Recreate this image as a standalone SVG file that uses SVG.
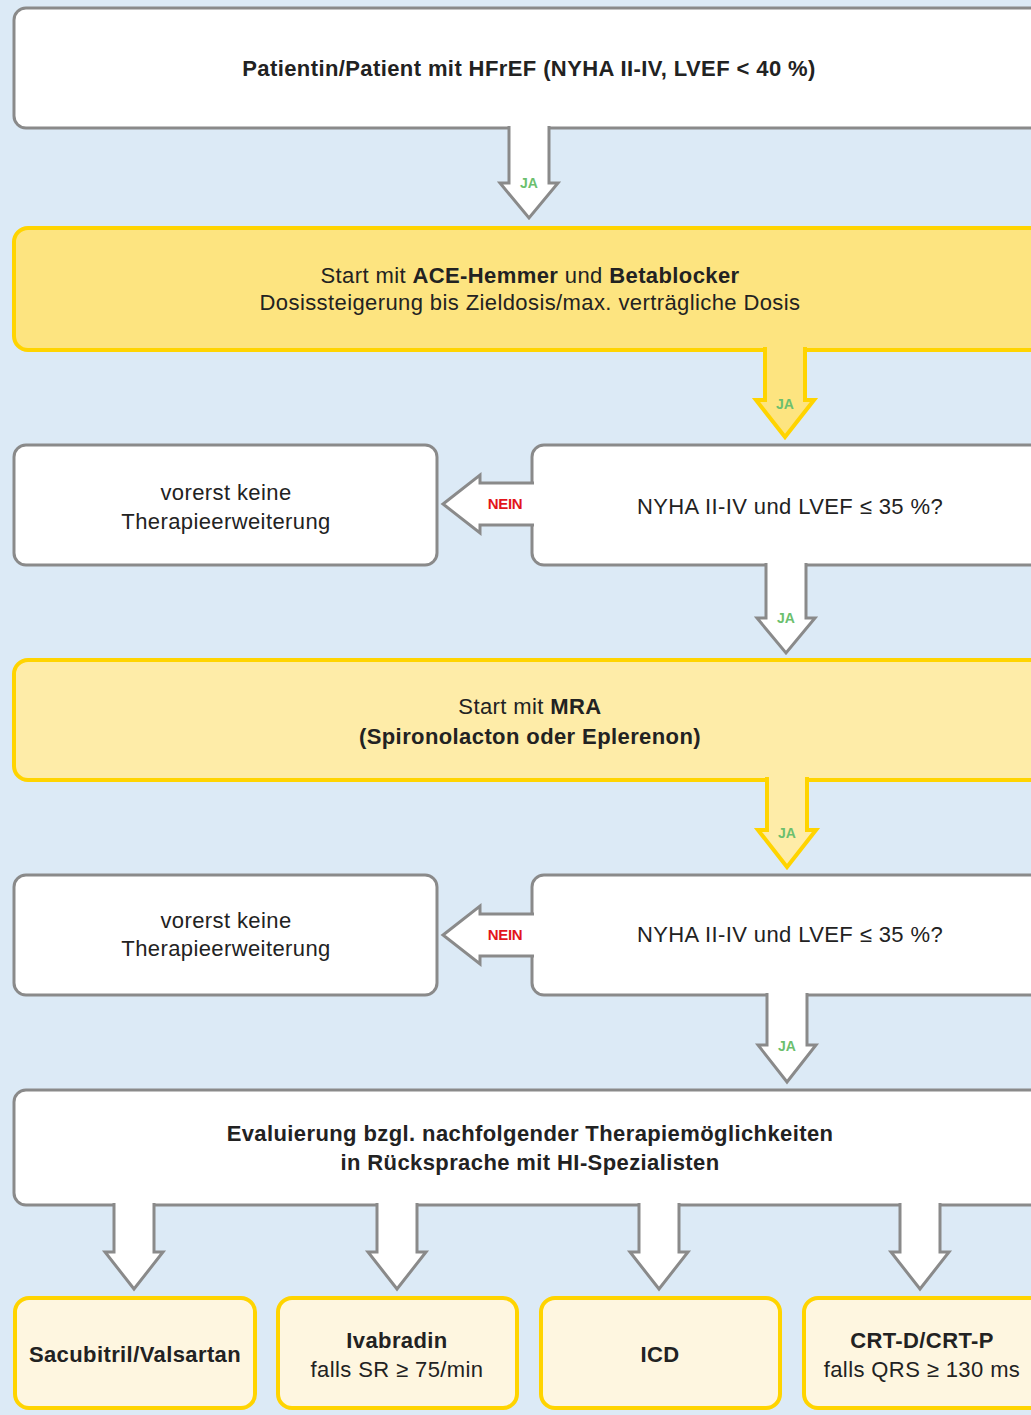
<svg xmlns="http://www.w3.org/2000/svg" width="1031" height="1415" viewBox="0 0 1031 1415">
<style>
.g{fill:#fff;stroke:#8a8a8a;stroke-width:3}
.y1{fill:#fde480;stroke:#ffd400;stroke-width:4}
.y2{fill:#feeca8;stroke:#ffd400;stroke-width:4}
.c{fill:#fef6e0;stroke:#ffd400;stroke-width:4}
.ag{fill:#fff;stroke:#8a8a8a;stroke-width:3;stroke-linejoin:miter}
.ay1{fill:#fde480;stroke:#ffd400;stroke-width:4}
.ay2{fill:#feeca8;stroke:#ffd400;stroke-width:4}
text{font-family:"Liberation Sans",Arial,sans-serif;font-size:22px;fill:#222;text-anchor:middle;letter-spacing:0.4px}
.b{font-weight:bold}
.ja{font-size:14px;font-weight:bold;fill:#6cbf6e;letter-spacing:0}
.nein{font-size:15px;font-weight:bold;fill:#e3141b;letter-spacing:-0.3px}
</style>
<rect width="1031" height="1415" fill="#dceaf6"/>
<g id="start"><rect class="g" x="14" y="8" width="1040" height="120" rx="12"/><text class="b" x="529" y="76">Patientin/Patient mit HFrEF (NYHA II-IV, LVEF &lt; 40 %)</text></g>
<g id="ace"><rect class="y1" x="14" y="228" width="1040" height="122" rx="14"/><text x="530" y="283">Start mit <tspan class="b">ACE-Hemmer</tspan> und <tspan class="b">Betablocker</tspan></text><text x="530" y="310">Dosissteigerung bis Zieldosis/max. verträgliche Dosis</text></g>
<g id="keine1"><rect class="g" x="14" y="445" width="423" height="120" rx="12"/><text x="226" y="500">vorerst keine</text><text x="226" y="529">Therapieerweiterung</text></g>
<g id="frage1"><rect class="g" x="532" y="445" width="520" height="120" rx="12"/><text x="790" y="514">NYHA II-IV und LVEF ≤ 35 %?</text></g>
<g id="mra"><rect class="y2" x="14" y="660" width="1040" height="120" rx="14"/><text x="530" y="714">Start mit <tspan class="b">MRA</tspan></text><text class="b" x="530" y="744">(Spironolacton oder Eplerenon)</text></g>
<g id="keine2"><rect class="g" x="14" y="875" width="423" height="120" rx="12"/><text x="226" y="928">vorerst keine</text><text x="226" y="956">Therapieerweiterung</text></g>
<g id="frage2"><rect class="g" x="532" y="875" width="520" height="120" rx="12"/><text x="790" y="942">NYHA II-IV und LVEF ≤ 35 %?</text></g>
<g id="eval"><rect class="g" x="14" y="1090" width="1040" height="115" rx="12"/><text class="b" x="530" y="1141">Evaluierung bzgl. nachfolgender Therapiemöglichkeiten</text><text class="b" x="530" y="1170">in Rücksprache mit HI-Spezialisten</text></g>
<g id="sacubitril"><rect class="c" x="15" y="1298" width="240" height="110" rx="14"/><text class="b" x="135" y="1362">Sacubitril/Valsartan</text></g>
<g id="ivabradin"><rect class="c" x="278" y="1298" width="239" height="110" rx="14"/><text class="b" x="397" y="1348">Ivabradin</text><text x="397" y="1377">falls SR ≥ 75/min</text></g>
<g id="icd"><rect class="c" x="541" y="1298" width="239" height="110" rx="14"/><text class="b" x="660" y="1362">ICD</text></g>
<g id="crt"><rect class="c" x="804" y="1298" width="240" height="110" rx="14"/><text class="b" x="922" y="1348">CRT-D/CRT-P</text><text x="922" y="1377">falls QRS ≥ 130 ms</text></g>
<g id="connectors">
<path class="ag" d="M509 126V183H500L529 218L558 183H549V126"/><text class="ja" x="529" y="188">JA</text>
<path class="ay1" d="M765 347V400H756L785 437L814 400H805V347"/><text class="ja" x="785" y="409">JA</text>
<path class="ag" d="M534 483H480V475L443 504L480 533V525H534"/><text class="nein" x="505" y="509">NEIN</text>
<path class="ag" d="M766 563V618H757L786 653L815 618H806V563"/><text class="ja" x="786" y="623">JA</text>
<path class="ay2" d="M767 777V830H758L787 867L816 830H807V777"/><text class="ja" x="787" y="838">JA</text>
<path class="ag" d="M534 914H480V906L443 935L480 964V956H534"/><text class="nein" x="505" y="940">NEIN</text>
<path class="ag" d="M767 993V1045H758L787 1082L816 1045H807V993"/><text class="ja" x="787" y="1051">JA</text>
<path class="ag" d="M114 1203V1252H105L134 1289L163 1252H154V1203"/>
<path class="ag" d="M377 1203V1252H368L397 1289L426 1252H417V1203"/>
<path class="ag" d="M639 1203V1252H630L659 1289L688 1252H679V1203"/>
<path class="ag" d="M900 1203V1252H891L920 1289L949 1252H940V1203"/>
</g>
</svg>
